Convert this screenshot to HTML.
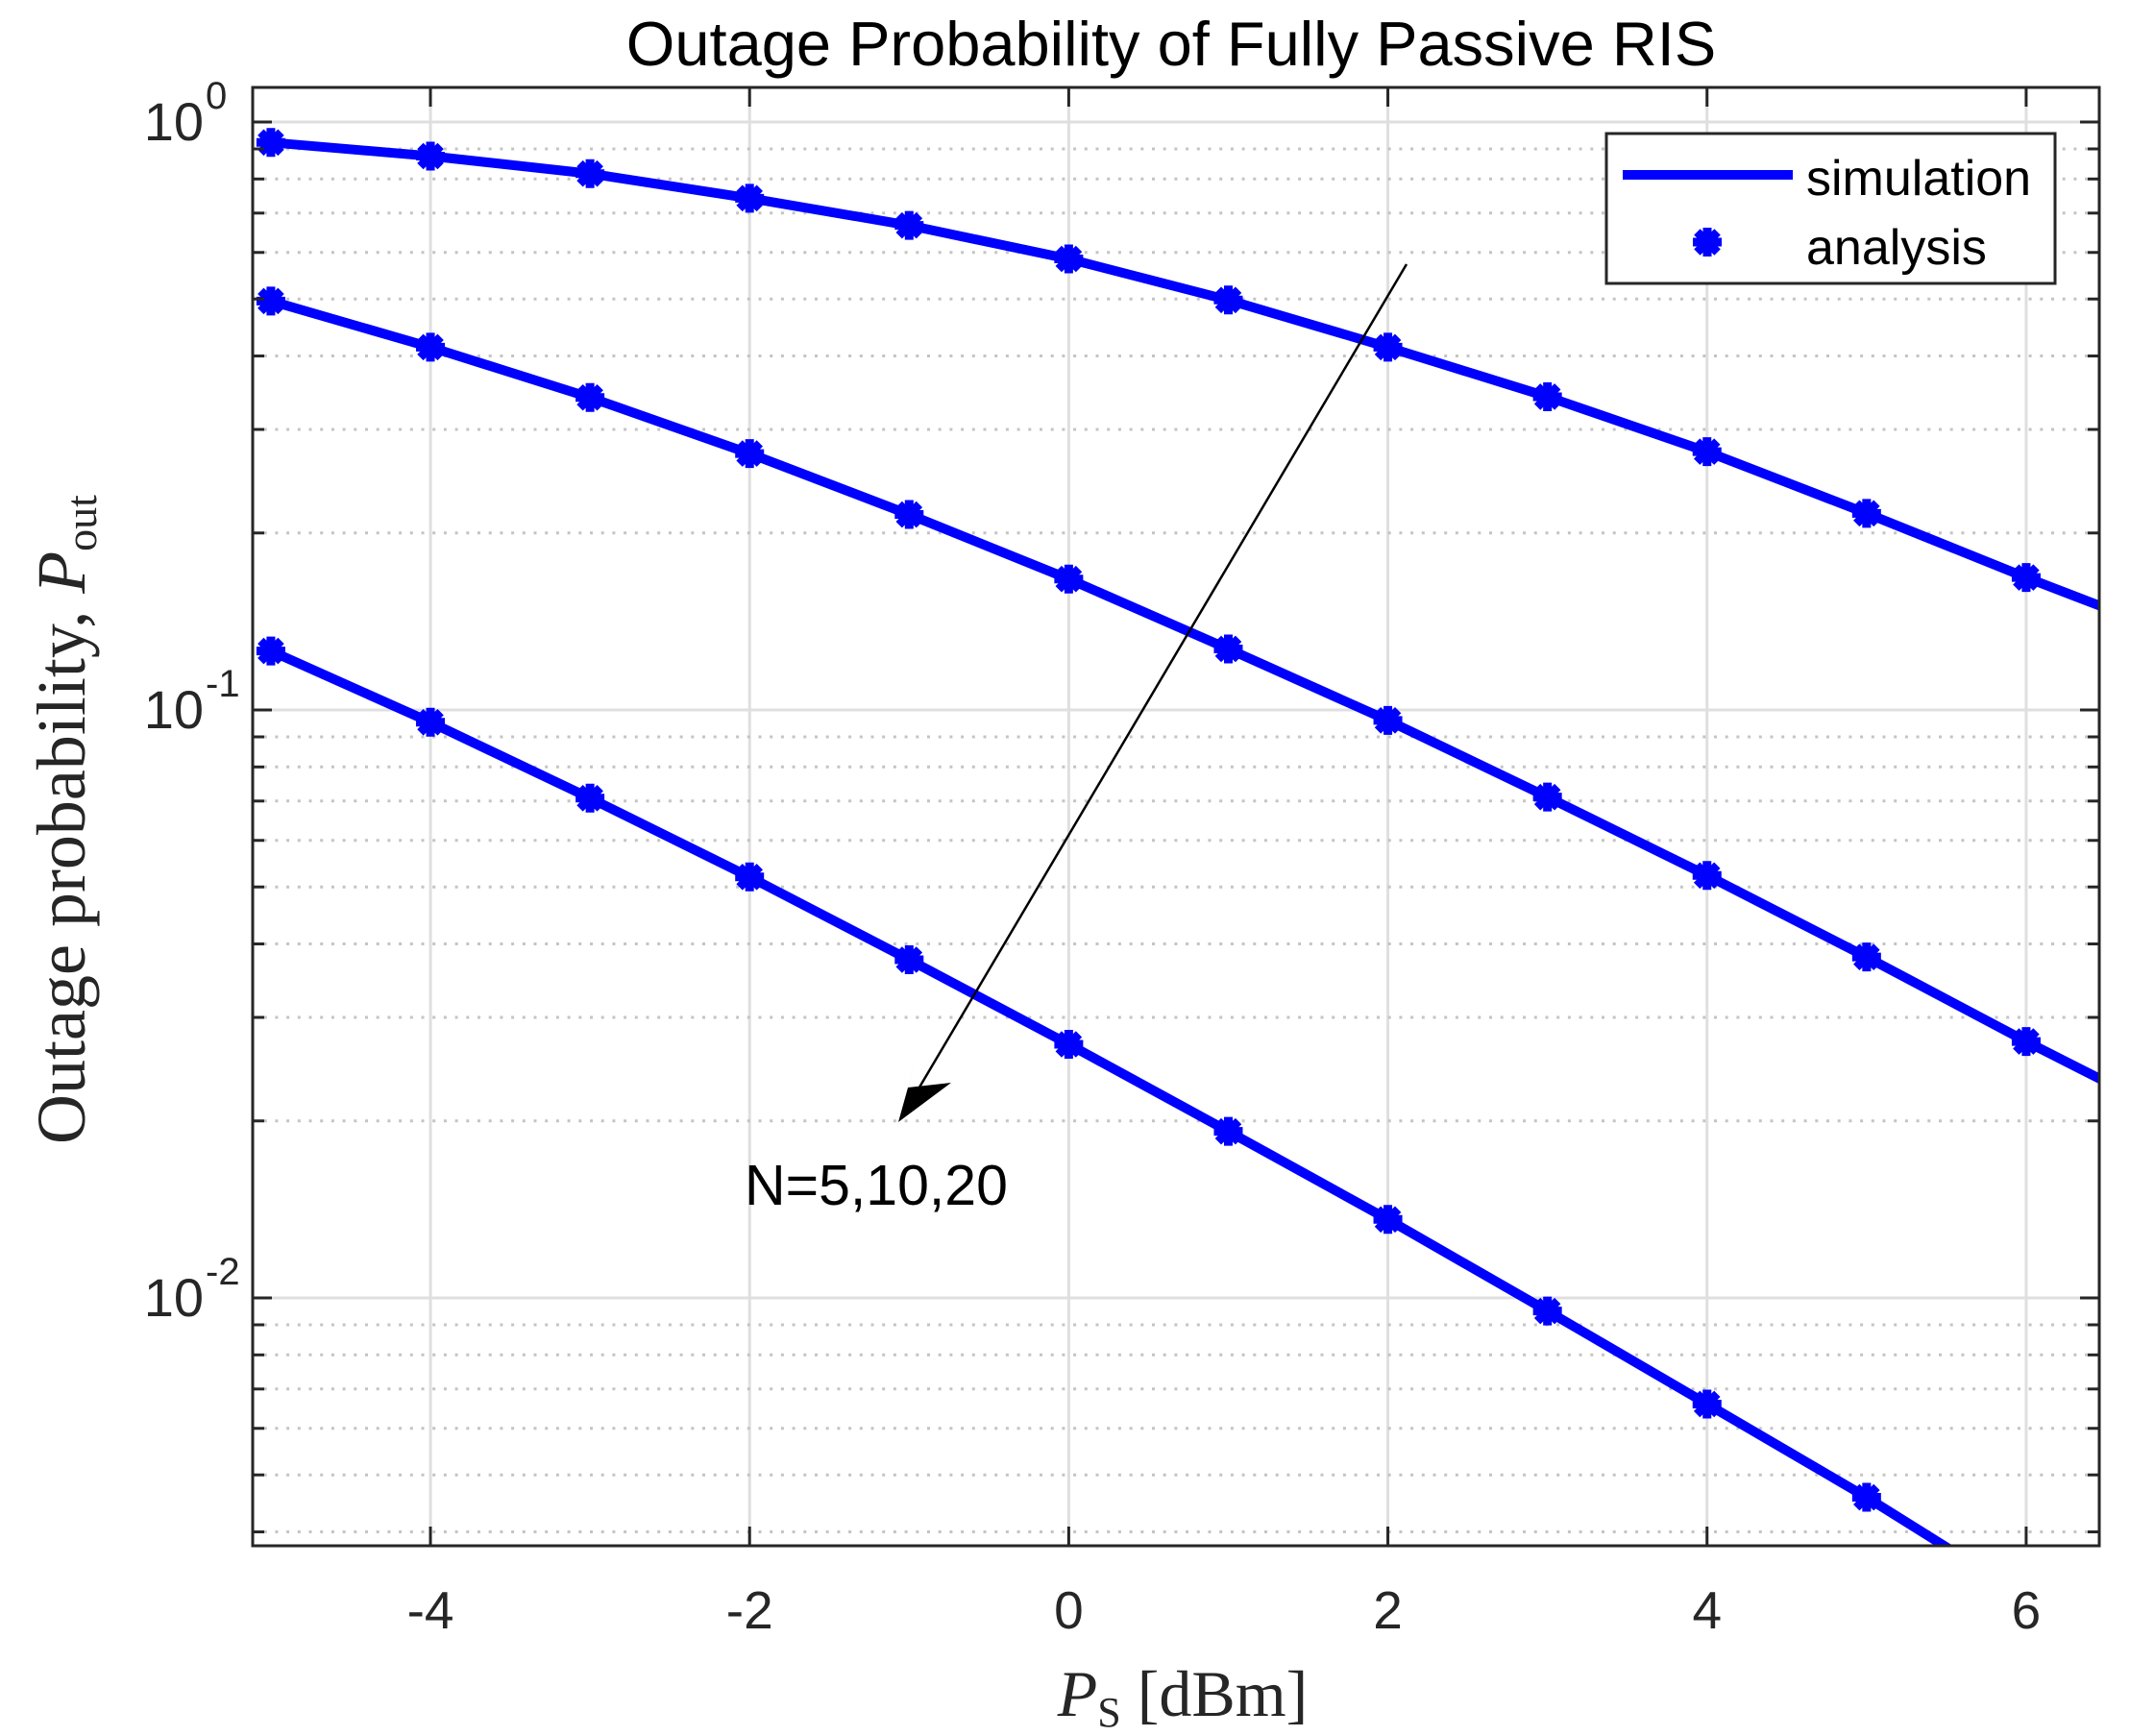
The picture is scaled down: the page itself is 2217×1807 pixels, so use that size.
<!DOCTYPE html>
<html><head><meta charset="utf-8"><style>
html,body{margin:0;padding:0;background:#fff;}
svg{display:block;}
.sans{font-family:"Liberation Sans",Arial,sans-serif;}
.serif{font-family:"Liberation Serif","DejaVu Serif",serif;}
</style></head><body>
<svg id="chart" class="sans" width="2217" height="1807" viewBox="0 0 2217 1807" xmlns="http://www.w3.org/2000/svg">
<rect width="2217" height="1807" fill="#fff"/>
<defs><clipPath id="plotclip"><rect x="263" y="91" width="1922" height="1518"/></clipPath></defs>
<g id="grid"></g>
<g id="series" clip-path="url(#plotclip)"></g>
<g id="axes"></g>
<text class="sans" x="1219" y="68" font-size="65" text-anchor="middle" fill="#000">Outage Probability of Fully Passive RIS</text>
<text class="serif" x="1231" y="1786" font-size="68" text-anchor="middle" fill="#262626"><tspan font-style="italic">P</tspan><tspan font-size="44" dy="11">S</tspan><tspan dy="-11"> [dBm]</tspan></text>
<text class="serif" transform="translate(88,853) rotate(-90)" font-size="72" text-anchor="middle" fill="#262626">Outage probability, <tspan font-style="italic">P</tspan><tspan font-size="46" dy="12">out</tspan></text>
<g>
<line x1="1464" y1="275" x2="945" y2="1152" stroke="#000" stroke-width="2.5"/>
<polygon points="935,1168 952,1107 945,1132 990,1127" fill="#000"/>
</g>
<text class="sans" x="775" y="1254" font-size="59" fill="#000">N=5,10,20</text>
<g>
<rect x="1672" y="139" width="467" height="156" fill="#fff" stroke="#262626" stroke-width="3"/>
<line x1="1689" y1="182" x2="1866" y2="182" stroke="#0000ff" stroke-width="10"/>
<g id="legmark"></g>
<text class="sans" x="1880" y="203" font-size="52" fill="#000">simulation</text>
<text class="sans" x="1880" y="275" font-size="52" fill="#000">analysis</text>
</g>
</svg>
<script>
const xValues = [-5,-4,-3,-2,-1,0,1,2,3,4,5,6];
const seriesN5 = [0.923,0.875,0.817,0.742,0.667,0.585,0.498,0.414,0.341,0.275,0.216,0.168];
const seriesN10 = [0.496,0.414,0.340,0.273,0.215,0.167,0.127,0.096,0.0711,0.0523,0.038,0.0273];
const seriesN20 = [0.126,0.0953,0.0708,0.052,0.0376,0.027,0.0192,0.0136,0.0095,0.0066,0.00458,0.0031];
const seriesTailX = [6.5,6.5,6];
const seriesTailY = [0.149,0.0233,0.0031];
const xTicks = [-4,-2,0,2,4,6];
const xTickLabels = ["-4","-2","0","2","4","6"];
const yDecades = [-2,-1,0];

const NS="http://www.w3.org/2000/svg";
const L=263,R=2185,T=91,B=1609;
const xMin=-5.114,xMax=6.458;
const yTopLog=(127-91)/612, yBotLog=-(1609-127)/612;
function xs(v){return L+(v-xMin)/(xMax-xMin)*(R-L);}
function ys(v){const lg=Math.log10(v);return T+(yTopLog-lg)/(yTopLog-yBotLog)*(B-T);}
function mk(tag,attrs,parent){const e=document.createElementNS(NS,tag);for(const k in attrs)e.setAttribute(k,attrs[k]);parent.appendChild(e);return e;}
const grid=document.getElementById('grid'),axes=document.getElementById('axes'),ser=document.getElementById('series');

xTicks.forEach((t,i)=>{
  const x=xs(t);
  const g=mk('line',{x1:x,y1:T,x2:x,y2:B,stroke:'#dfdfdf','stroke-width':3},grid);
  
  
  mk('line',{x1:x,y1:B,x2:x,y2:B-20,stroke:'#262626','stroke-width':3},axes);
  mk('line',{x1:x,y1:T,x2:x,y2:T+20,stroke:'#262626','stroke-width':3},axes);
  const tx=mk('text',{x:x,y:1695,'font-size':55,'text-anchor':'middle',fill:'#262626'},axes);
  tx.textContent=xTickLabels[i];
  
  
});
function minor(vv){
  const ym=ys(vv);if(ym<T||ym>B)return;
  const ml=mk('line',{x1:L,y1:ym,x2:R,y2:ym,stroke:'#c4c4c4','stroke-width':3,'stroke-dasharray':'3 8.7'},grid);
  
  
  mk('line',{x1:L,y1:ym,x2:L+12,y2:ym,stroke:'#262626','stroke-width':3},axes);
  mk('line',{x1:R,y1:ym,x2:R-12,y2:ym,stroke:'#262626','stroke-width':3},axes);
}
yDecades.forEach(d=>{
  const y=ys(Math.pow(10,d));
  const g=mk('line',{x1:L,y1:y,x2:R,y2:y,stroke:'#dfdfdf','stroke-width':3},grid);
  
  
  mk('line',{x1:L,y1:y,x2:L+20,y2:y,stroke:'#262626','stroke-width':3},axes);
  mk('line',{x1:R,y1:y,x2:R-20,y2:y,stroke:'#262626','stroke-width':3},axes);
  const tx=mk('text',{x:212,y:y+19,'font-size':56,'text-anchor':'end',fill:'#262626'},axes);
  tx.textContent='10';
  
  
  const sup=mk('text',{x:214,y:y-14,'font-size':40,'text-anchor':'start',fill:'#262626'},axes);
  sup.textContent=String(d);
  for(let m=2;m<=9;m++) minor(m*Math.pow(10,d-1));
});
const frame=mk('rect',{x:L,y:T,width:R-L,height:B-T,fill:'none',stroke:'#262626','stroke-width':3},axes);



function marker(cx,cy,parent){
  const g=mk('g',{},parent);
  mk('circle',{cx:cx,cy:cy,r:11,fill:'#0000ff'},g);
  for(let a=0;a<180;a+=45){const r=a*Math.PI/180,dx=15*Math.cos(r),dy=15*Math.sin(r);
    mk('line',{x1:cx-dx,y1:cy-dy,x2:cx+dx,y2:cy+dy,stroke:'#0000ff','stroke-width':9},g);}
  return g;
}
[seriesN5,seriesN10,seriesN20].forEach((s,si)=>{
  const pts=xValues.map((x,i)=>xs(x)+','+ys(s[i]));
  pts.push(xs(seriesTailX[si])+','+ys(seriesTailY[si]));
  const pl=mk('polyline',{points:pts.join(' '),fill:'none',stroke:'#0000ff','stroke-width':10,'stroke-linejoin':'round'},ser);
  
  
  xValues.forEach((x,i)=>{
    const m=marker(xs(x),ys(s[i]),ser);
    
    
  });
});
marker(1777,252,document.getElementById('legmark'));
</script>
</body></html>
